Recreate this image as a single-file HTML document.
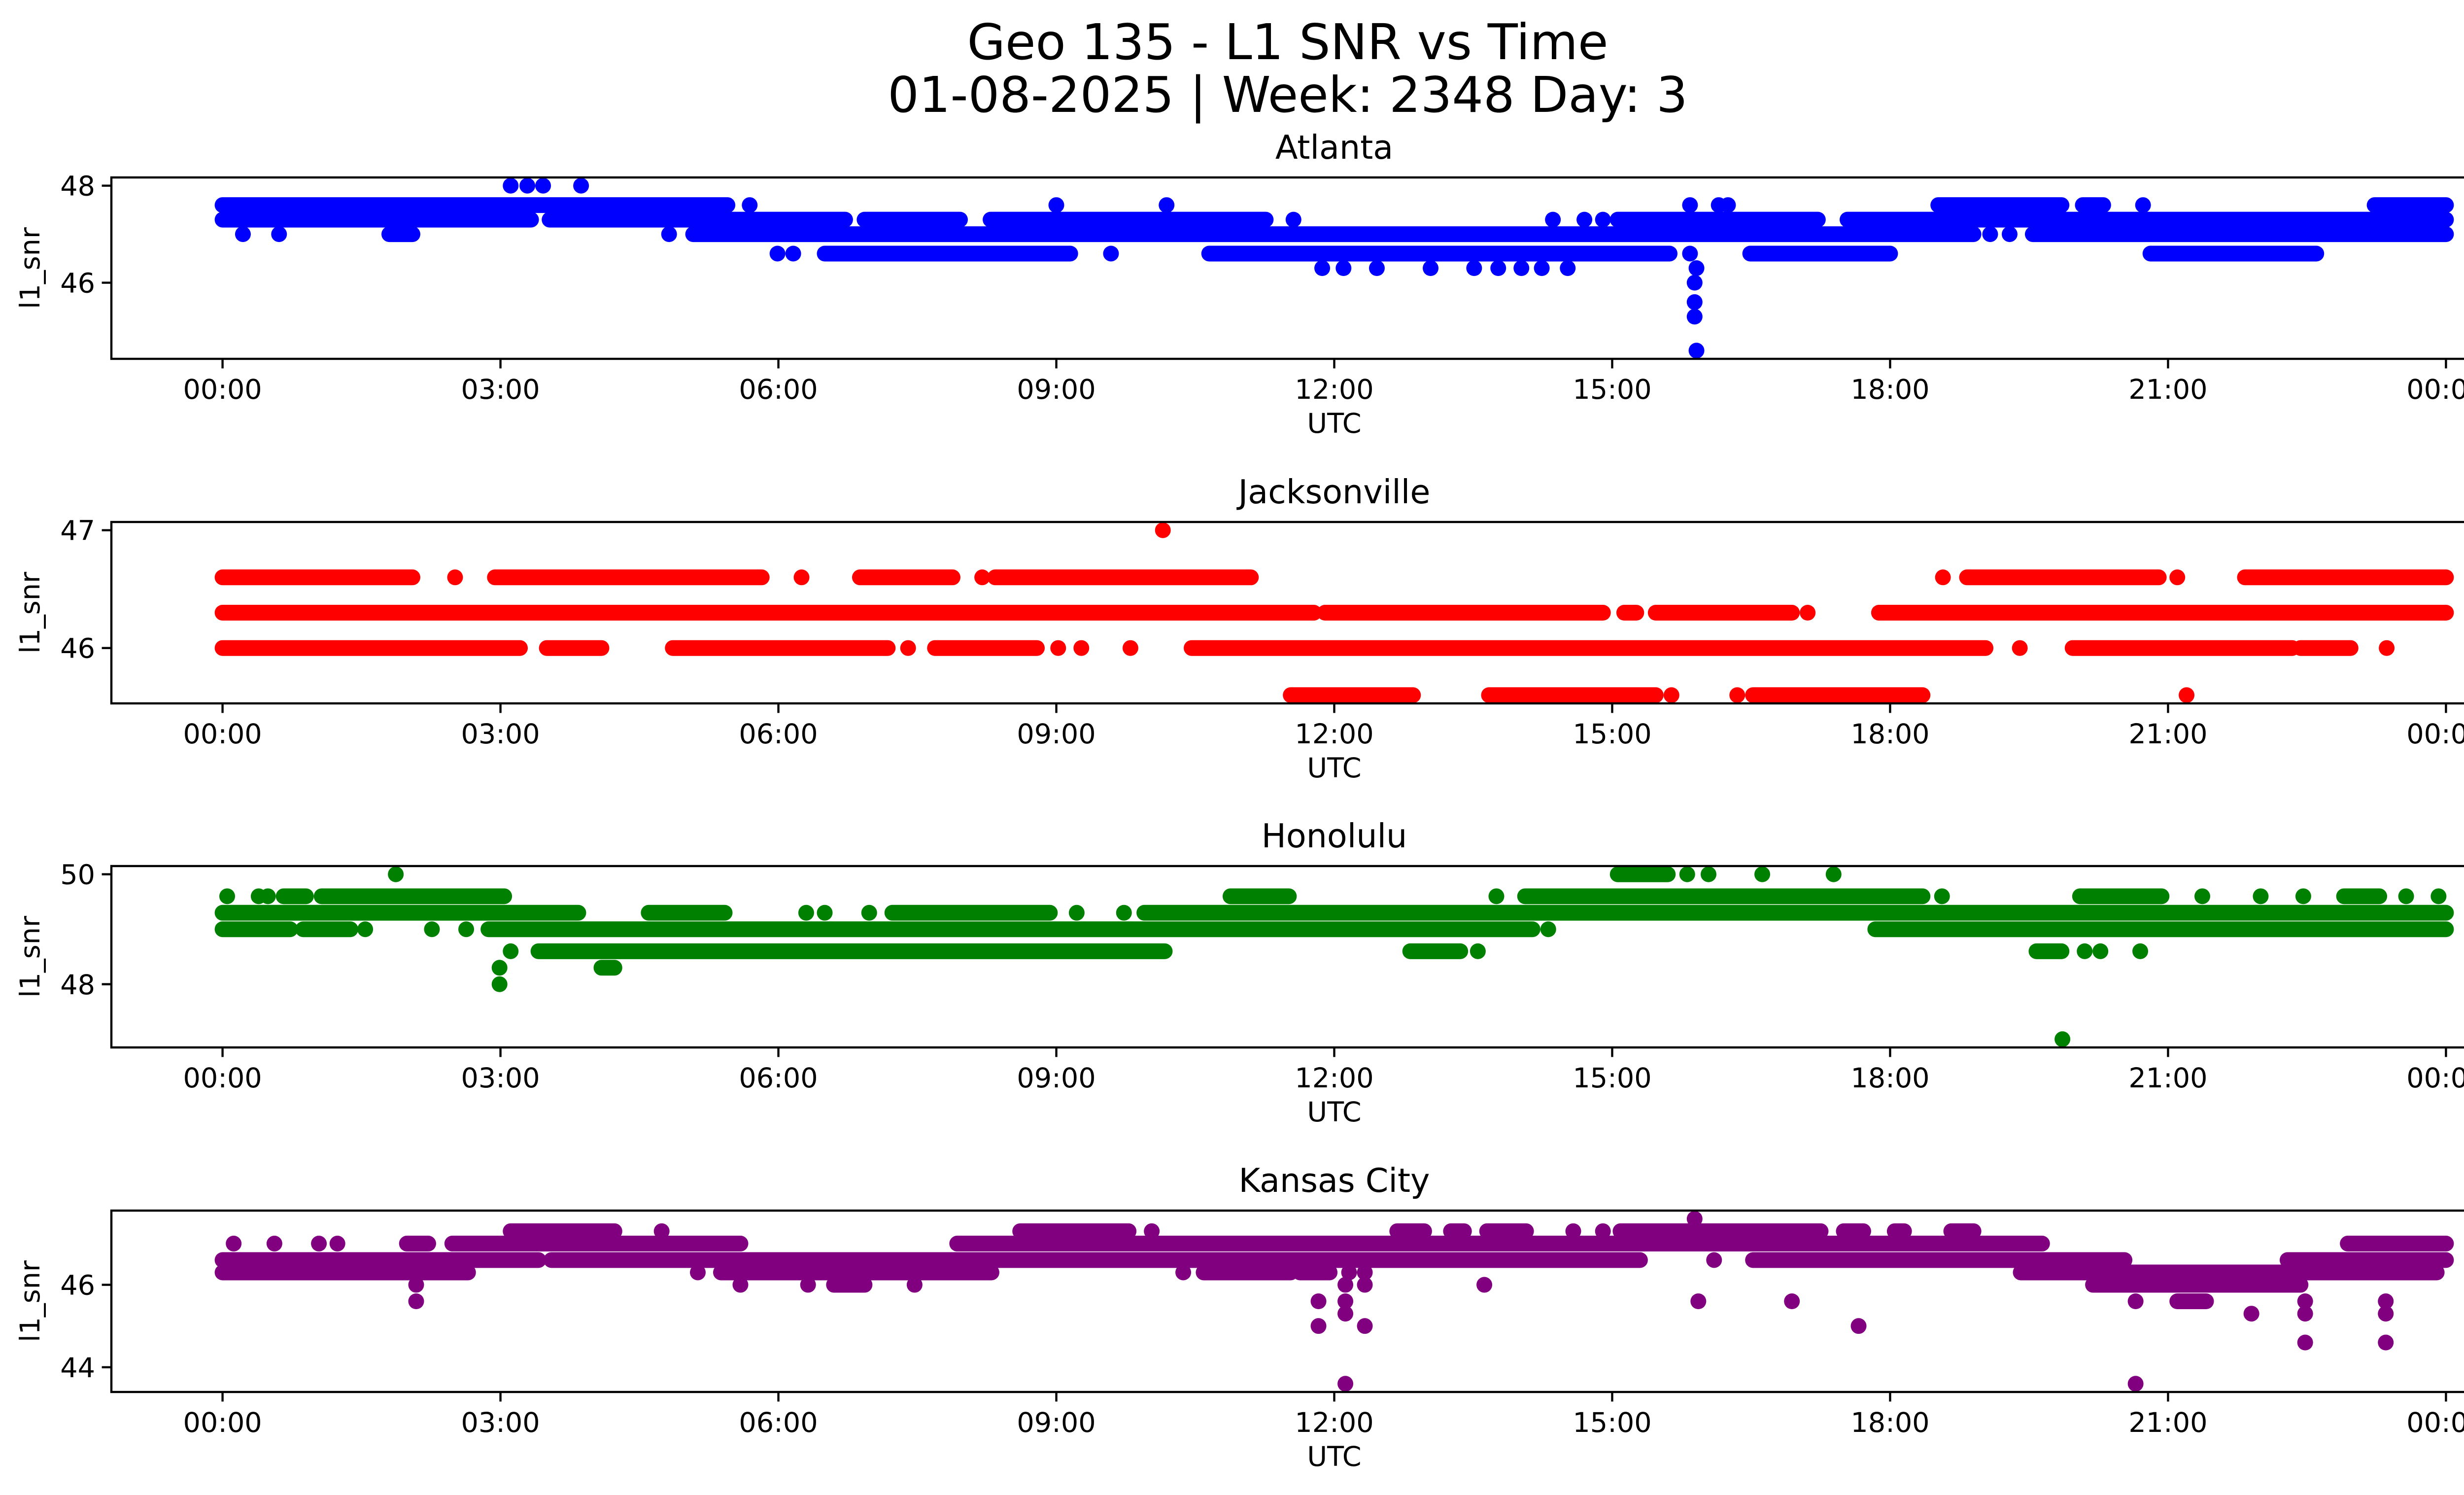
<!DOCTYPE html>
<html><head><meta charset="utf-8"><title>Geo 135 - L1 SNR vs Time</title>
<style>
html,body{margin:0;padding:0;background:#fff;}
svg{display:block;font-family:"DejaVu Sans","Liberation Sans",sans-serif;}
</style></head>
<body>
<svg id="fig" xmlns="http://www.w3.org/2000/svg" width="5226" height="3033" viewBox="0 0 5226 3033">
<rect width="5226" height="3033" fill="#fff"/>
<text x="2613" y="120" font-size="100" text-anchor="middle">Geo 135 - L1 SNR vs Time</text>
<text x="2613" y="227" font-size="100" text-anchor="middle">01-08-2025 | Week: 2348 Day: 3</text>
<g id="plots"></g>
</svg>
<script>
// ---- data (hours UTC, l1_snr) ----
const stationNames = ["Atlanta", "Jacksonville", "Honolulu", "Kansas City"];
const stationColors = ["#0000ff", "#ff0000", "#008000", "#800080"];
const xTickLabels = ["00:00","03:00","06:00","09:00","12:00","15:00","18:00","21:00","00:00"];
const xTickHours = [0,3,6,9,12,15,18,21,24];
const atlantaYTicks = [46, 48];
const jacksonvilleYTicks = [46, 47];
const honoluluYTicks = [48, 50];
const kansasYTicks = [44, 46];

// runs: [startHour, endHour, snr]  (densely sampled stretches)
const atlantaRuns = [
 [0,5.45,47.6],[18.52,19.85,47.6],[20.08,20.3,47.6],[23.23,24,47.6],
 [0,3.33,47.3],[3.53,6.72,47.3],[6.93,7.96,47.3],[8.29,11.26,47.3],[15.06,17.22,47.3],[17.54,24,47.3],
 [1.8,2.05,47.0],[5.08,18.9,47.0],[19.54,24,47.0],
 [6.5,9.15,46.6],[10.65,15.62,46.6],[16.49,18.0,46.6],[20.81,22.6,46.6]
];
const atlantaPoints = [
 [3.11,48],[3.29,48],[3.46,48],[3.87,48],
 [5.69,47.6],[9.0,47.6],[10.19,47.6],[15.84,47.6],[16.15,47.6],[16.25,47.6],[20.73,47.6],
 [11.56,47.3],[14.36,47.3],[14.7,47.3],[14.9,47.3],
 [0.22,47.0],[0.61,47.0],[4.82,47.0],[19.08,47.0],[19.29,47.0],
 [5.99,46.6],[6.16,46.6],[9.59,46.6],[15.84,46.6],
 [11.87,46.3],[12.1,46.3],[12.46,46.3],[13.04,46.3],[13.51,46.3],[13.77,46.3],[14.02,46.3],[14.24,46.3],[14.52,46.3],[15.91,46.3],
 [15.89,46.0],[15.89,45.6],[15.89,45.3],[15.91,44.6]
];
const jacksonvilleRuns = [
 [0,2.05,46.6],[2.94,5.82,46.6],[6.88,7.88,46.6],[8.34,11.1,46.6],[18.83,20.9,46.6],[21.83,24,46.6],
 [0,11.78,46.3],[11.9,14.9,46.3],[15.13,15.26,46.3],[15.47,16.94,46.3],[17.88,24,46.3],
 [0,3.21,46.0],[3.5,4.09,46.0],[4.86,7.18,46.0],[7.69,8.79,46.0],[10.46,19.03,46.0],[19.97,22.34,46.0],[22.43,22.97,46.0],
 [11.53,12.85,45.6],[13.67,15.47,45.6],[16.52,18.35,45.6]
];
const jacksonvillePoints = [
 [10.15,47.0],[2.51,46.6],[6.25,46.6],[8.2,46.6],[18.57,46.6],[21.1,46.6],
 [17.11,46.3],[7.4,46.0],[9.02,46.0],[9.27,46.0],[9.8,46.0],[19.4,46.0],[23.36,46.0],
 [15.64,45.6],[16.35,45.6],[21.2,45.6]
];
const honoluluRuns = [
 [15.06,15.6,50.0],
 [0.66,0.9,49.6],[1.07,3.04,49.6],[10.88,11.51,49.6],[14.06,18.35,49.6],[20.05,20.93,49.6],[22.9,23.28,49.6],
 [0,3.84,49.3],[4.6,5.42,49.3],[7.23,8.93,49.3],[9.95,24,49.3],
 [0,0.73,49.0],[0.87,1.38,49.0],[2.87,14.14,49.0],[17.84,24,49.0],
 [3.41,10.17,48.6],[12.82,13.36,48.6],[19.58,19.85,48.6],
 [4.09,4.23,48.3]
];
const honoluluPoints = [
 [1.87,50.0],[15.81,50.0],[16.04,50.0],[16.62,50.0],[17.39,50.0],
 [0.05,49.6],[0.39,49.6],[0.49,49.6],[13.75,49.6],[18.56,49.6],[21.37,49.6],[22.0,49.6],[22.46,49.6],[23.57,49.6],[23.92,49.6],
 [6.3,49.3],[6.5,49.3],[6.98,49.3],[9.22,49.3],[9.73,49.3],
 [1.54,49.0],[2.26,49.0],[2.63,49.0],[14.31,49.0],
 [3.11,48.6],[13.55,48.6],[20.1,48.6],[20.27,48.6],[20.7,48.6],
 [2.99,48.3],[2.99,48.0],[19.86,47.0]
];
const kansasRuns = [
 [3.11,4.23,47.3],[8.61,9.78,47.3],[12.68,12.97,47.3],[13.26,13.4,47.3],[13.65,14.07,47.3],[15.09,17.25,47.3],[17.5,17.71,47.3],[18.05,18.15,47.3],[18.66,18.9,47.3],
 [1.99,2.22,47.0],[2.48,5.59,47.0],[7.93,19.64,47.0],[22.94,24,47.0],
 [0,3.41,46.6],[3.55,15.3,46.6],[16.52,20.53,46.6],[22.29,24,46.6],
 [0,2.65,46.3],[5.38,8.3,46.3],[10.59,11.53,46.3],[11.63,11.95,46.3],[19.41,23.9,46.3],
 [6.6,6.93,46.0],[20.19,22.43,46.0],
 [21.1,21.41,45.6]
];
const kansasPoints = [
 [15.89,47.6],[4.74,47.3],[10.03,47.3],[14.58,47.3],[14.9,47.3],
 [0.12,47.0],[0.56,47.0],[1.04,47.0],[1.24,47.0],
 [16.1,46.6],[5.13,46.3],[10.37,46.3],[12.16,46.3],[12.33,46.3],
 [2.09,46.0],[5.59,46.0],[6.32,46.0],[7.47,46.0],[12.12,46.0],[12.33,46.0],[13.62,46.0],
 [2.09,45.6],[11.83,45.6],[12.12,45.6],[15.93,45.6],[16.94,45.6],[20.65,45.6],[22.48,45.6],[23.35,45.6],
 [12.12,45.3],[21.9,45.3],[22.48,45.3],[23.35,45.3],
 [11.83,45.0],[12.33,45.0],[17.66,45.0],
 [22.48,44.6],[23.35,44.6],
 [12.12,43.6],[20.65,43.6]
];
const allRuns = [atlantaRuns, jacksonvilleRuns, honoluluRuns, kansasRuns];
const allPoints = [atlantaPoints, jacksonvillePoints, honoluluPoints, kansasPoints];
const allYTicks = [atlantaYTicks, jacksonvilleYTicks, honoluluYTicks, kansasYTicks];

// ---- layout ----
const NS = "http://www.w3.org/2000/svg";
const AX_L = 226, AX_R = 5189, AX_H = 368;
const AX_TOPS = [360, 1059, 1757, 2456];
const X_MIN = -1.2, X_MAX = 25.2;
const R = 16;
function mk(tag, attrs, parent){ const e=document.createElementNS(NS,tag); for(const k in attrs) e.setAttribute(k,attrs[k]); parent.appendChild(e); return e; }
function xScale(h){ return AX_L + (h - X_MIN)/(X_MAX - X_MIN)*(AX_R-AX_L); }

const root = document.getElementById("plots");
stationNames.forEach((name, i) => {
  const top = AX_TOPS[i], bot = top + AX_H;
  const runs = allRuns[i], pts = allPoints[i];
  let vals = runs.map(r=>r[2]).concat(pts.map(p=>p[1]));
  let vmin = Math.min(...vals), vmax = Math.max(...vals);
  const pad = (vmax - vmin)*0.05 || 0.5;
  const yMin = vmin - pad, yMax = vmax + pad;
  const yScale = v => bot - (v - yMin)/(yMax - yMin)*AX_H;
  const slug = name.toLowerCase().replace(/\s+/g,'-');

  const g = mk("g", {}, root);
  
  

  const t = mk("text", {x:(AX_L+AX_R)/2, y: top-38, "font-size":66.7, "text-anchor":"middle"}, g);
  t.textContent = name;
  
  

  const clipId = "clip"+i;
  const cp = mk("clipPath", {id:clipId}, g);
  mk("rect", {x:AX_L, y:top, width:AX_R-AX_L, height:AX_H}, cp);
  const series = mk("g", {"clip-path":"url(#"+clipId+")", fill:stationColors[i], stroke:stationColors[i]}, g);
  
  
  runs.forEach(r => {
    const ln = mk("line", {x1:xScale(r[0]), x2:xScale(r[1]), y1:yScale(r[2]), y2:yScale(r[2]), "stroke-width":2*R, "stroke-linecap":"round"}, series);
    
    
  });
  pts.forEach(p => {
    const c = mk("circle", {cx:xScale(p[0]), cy:yScale(p[1]), r:R, stroke:"none"}, series);
    
    
  });

  const frame = mk("rect", {x:AX_L, y:top, width:AX_R-AX_L, height:AX_H, fill:"none", stroke:"#000", "stroke-width":4.4}, g);
  
  

  const xa = mk("g", {}, g);
  
  
  xTickHours.forEach((h, k) => {
    const x = xScale(h);
    mk("line", {x1:x, x2:x, y1:bot, y2:bot+19.4, stroke:"#000", "stroke-width":4.4}, xa);
    const tl = mk("text", {x:x, y:bot+81, "font-size":55.6, "text-anchor":"middle"}, xa);
    tl.textContent = xTickLabels[k];
    
    
  });
  const xl = mk("text", {x:(AX_L+AX_R)/2, y:bot+150, "font-size":55.6, "text-anchor":"middle"}, xa);
  xl.textContent = "UTC";
  
  

  const ya = mk("g", {}, g);
  
  
  allYTicks[i].forEach(v => {
    const y = yScale(v);
    mk("line", {x1:AX_L-19.4, x2:AX_L, y1:y, y2:y, stroke:"#000", "stroke-width":4.4}, ya);
    const tl = mk("text", {x:AX_L-33, y:y+20, "font-size":55.6, "text-anchor":"end"}, ya);
    tl.textContent = String(v);
    
    
  });
  const cy = (top+bot)/2;
  const yl = mk("text", {x:0, y:0, "font-size":55.6, "text-anchor":"middle", transform:"translate(80,"+cy+") rotate(-90)"}, ya);
  yl.textContent = "l1_snr";
  
  
});
</script>
</body></html>
